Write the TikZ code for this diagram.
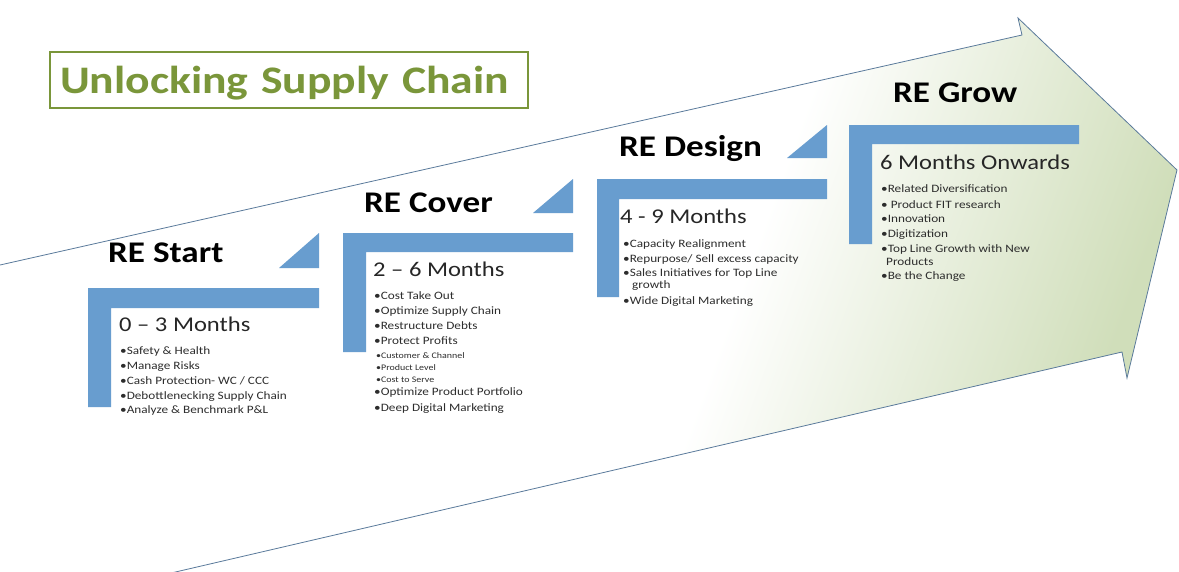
\documentclass[tikz,border=0pt]{standalone}
\usepackage{fontspec}
\setmainfont[FakeStretch=1.17]{Carlito}
\usetikzlibrary{positioning}
\definecolor{boxblue}{RGB}{104,157,207}
\definecolor{titlegreen}{RGB}{122,150,58}
\definecolor{arrowline}{RGB}{90,122,155}
\definecolor{arrowgreen}{RGB}{208,222,186}
\definecolor{itemgrey}{RGB}{45,45,45}
\pgfdeclarehorizontalshading{arrowfade}{100bp}{color(0bp)=(white); color(57bp)=(white); color(75bp)=(arrowgreen); color(100bp)=(arrowgreen)}

\begin{document}
\begin{tikzpicture}[x=1pt,y=-1pt,
	stage/.style={anchor=base west,inner sep=0pt,text=black,
		font=\fontsize{30}{36}\selectfont\bfseries},
	span/.style={anchor=base west,inner sep=0pt,text=black!85,
		font=\fontsize{21}{25}\selectfont},
	items/.style={anchor=base west,inner sep=0pt,align=left,text=itemgrey,
		font=\fontsize{11.3}{14.7}\selectfont}]
	\useasboundingbox (0,0) rectangle (1179,571);
	\clip (0,0) rectangle (1179,571);
	% big arrow
	\shade[shading=arrowfade,shading angle=-20] (-20,269.5) -- (1022,35) -- (1018,18) -- (1177,170)
		-- (1127,378) -- (1122,352) -- (55,600) -- (-20,600) -- cycle;
	\draw[arrowline,line width=0.8pt] (-20,269.5) -- (1022,35) -- (1018,18) -- (1177,170)
		-- (1127,378) -- (1122,352) -- (55,600);
	% title
	\node[draw=titlegreen,line width=2pt,text=titlegreen,anchor=north west,
		text width=458pt,inner xsep=10pt,minimum height=56pt,align=left,text depth=0pt,
		font=\fontsize{39}{46}\selectfont\bfseries] (title) at (49,51) {Unlocking Supply Chain};
	% brackets
	\fill[boxblue] (88,288) -- ++(231,0) -- ++(0,20) -- ++(-208,0) -- ++(0,99) -- ++(-23,0) -- cycle;
	\fill[boxblue] (279,268) -- (319,268) -- (319,233) -- cycle;
	\fill[boxblue] (343,233) -- ++(230,0) -- ++(0,19) -- ++(-207,0) -- ++(0,100) -- ++(-23,0) -- cycle;
	\fill[boxblue] (533,213) -- (573,213) -- (573,179) -- cycle;
	\fill[boxblue] (597,179) -- ++(230,0) -- ++(0,20) -- ++(-208,0) -- ++(0,98) -- ++(-22,0) -- cycle;
	\fill[boxblue] (787,158) -- (827,158) -- (827,125) -- cycle;
	\fill[boxblue] (849,125) -- ++(230,0) -- ++(0,19) -- ++(-207,0) -- ++(0,100) -- ++(-23,0) -- cycle;
	% RE Start (items anchored at the last line)
	\node[stage] (start) at (108,262) {RE Start};
	\node[span] (startspan) at (119,331) {0 -- 3 Months};
	\node[items] (startitems) at (120,413.7) {•Safety \& Health\\•Manage Risks\\
		•Cash Protection- WC / CCC\\•Debottlenecking Supply Chain\\•Analyze \& Benchmark P\&L};
	% RE Cover
	\node[stage] (cover) at (364,212) {RE Cover};
	\node[span] (coverspan) at (373,276) {2 -- 6 Months};
	\node[items] (coveritems) at (374,411.7) {•Cost Take Out\\•Optimize Supply Chain\\
		•Restructure Debts\\•Protect Profits\\
		{\fontsize{8.5}{10}\selectfont\hspace*{2pt}•Customer \& Channel}\\[-2.7pt]
		{\fontsize{8.5}{10}\selectfont\hspace*{2pt}•Product Level}\\[-2.7pt]
		{\fontsize{8.5}{10}\selectfont\hspace*{2pt}•Cost to Serve}\\[-1.7pt]
		•Optimize Product Portfolio\\[1.3pt]•Deep Digital Marketing};
	% RE Design
	\node[stage] (design) at (619,156) {RE Design};
	\node[span] (designspan) at (620,223) {4 - 9 Months};
	\node[items] (designitems) at (623,304.7) {•Capacity Realignment\\
		•Repurpose/ Sell excess capacity\\•Sales Initiatives for Top Line\\[-2.7pt]
		\hspace*{9pt}growth\\[1.3pt]•Wide Digital Marketing};
	% RE Grow
	\node[stage] (grow) at (893,102) {RE Grow};
	\node[span] (growspan) at (880,169) {6 Months Onwards};
	\node[items] (growitems) at (881,279.7) {•Related Diversification\\[1.3pt]
		• Product FIT research\\[-0.7pt]•Innovation\\•Digitization\\
		•Top Line Growth with New\\[-1.7pt]\hspace*{5pt}Products\\•Be the Change};
\end{tikzpicture}
\end{document}
